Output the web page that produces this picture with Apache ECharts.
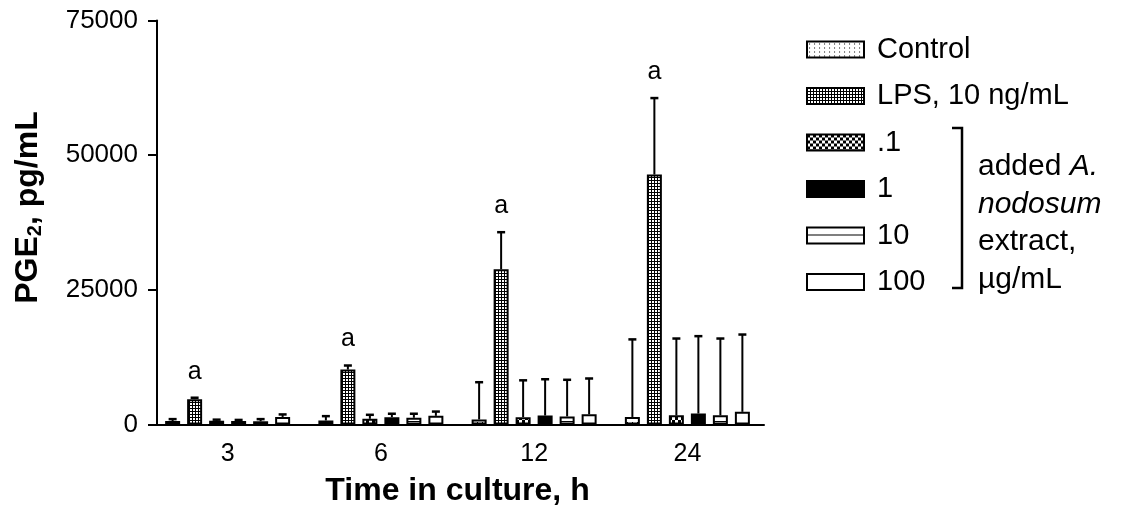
<!DOCTYPE html>
<html>
<head>
<meta charset="utf-8">
<script src="https://cdn.jsdelivr.net/npm/echarts@6/dist/echarts.min.js"></script>
<style>
html,body{margin:0;padding:0;background:#fff;}
#chart{width:1122px;height:514px;}
</style>
</head>
<body>
<div id="chart"></div>
<script>
// ---- data ----
const categories = ['3', '6', '12', '24'];
const seriesNames = ['Control', 'LPS, 10 ng/mL', '.1', '1', '10', '100'];
const control   = [650, 750, 930, 1400];
const lps       = [4700, 10200, 28800, 46400];
const ext01     = [700, 1060, 1360, 1700];
const ext1      = [650, 1360, 1670, 2040];
const ext10     = [600, 1250, 1500, 1700];
const ext100    = [1400, 1610, 1900, 2350];
const controlErr = [350, 800, 6920, 14400];
const lpsErr     = [270, 750, 6900, 14200];
const ext01Err   = [200, 740, 6840, 14260];
const ext1Err    = [200, 640, 6730, 14360];
const ext10Err   = [400, 750, 6800, 14260];
const ext100Err  = [470, 790, 6640, 14350];
const lpsSigLabels = ['a', 'a', 'a', 'a'];
const yTicks = [0, 25000, 50000, 75000];

const means = [control, lps, ext01, ext1, ext10, ext100];
const errs = [controlErr, lpsErr, ext01Err, ext1Err, ext10Err, ext100Err];

// ---- patterns ----
function tile(w, h, draw) {
  const c = document.createElement('canvas');
  c.width = w; c.height = h;
  const ctx = c.getContext('2d');
  draw(ctx, w, h);
  return { image: c, repeat: 'repeat' };
}
const patControl = tile(5, 4, (g, w, h) => { g.fillStyle = '#fff'; g.fillRect(0, 0, w, h); g.fillStyle = '#000'; g.fillRect(2, 2, 1, 1); });
const patLps = tile(3, 3, (g, w, h) => { g.fillStyle = '#000'; g.fillRect(0, 0, w, h); g.fillStyle = '#fff'; g.fillRect(1, 1, 2, 2); });
const patChk = tile(6, 6, (g, w, h) => { g.fillStyle = '#fff'; g.fillRect(0, 0, w, h); g.fillStyle = '#000'; g.fillRect(0, 0, 3, 3); g.fillRect(3, 3, 3, 3); });
const patHoriz = tile(4, 9, (g, w, h) => { g.fillStyle = '#fff'; g.fillRect(0, 0, w, h); g.fillStyle = '#000'; g.fillRect(0, 7, w, 1); });
const fills = [patControl, patLps, patChk, '#000', patHoriz, '#fff'];

const FONT = 'Liberation Sans, Arial, sans-serif';
const BAR_W = 15;
const PITCH = 22;

const errData = [];
for (let s = 0; s < means.length; s++) {
  for (let c = 0; c < categories.length; c++) {
    errData.push([c, s, means[s][c], means[s][c] + errs[s][c], s === 1 ? lpsSigLabels[c] : '']);
  }
}

const barSeries = seriesNames.map((name, i) => ({
  name: name,
  type: 'bar',
  data: means[i],
  barWidth: BAR_W,
  barGap: ((PITCH - BAR_W) / BAR_W * 100).toFixed(2) + '%',
  itemStyle: { color: fills[i], borderColor: '#000', borderWidth: 2 },
  emphasis: { disabled: true },
  z: 3
}));

const errSeries = {
  type: 'custom',
  name: 'err',
  data: errData,
  z: 4,
  silent: true,
  renderItem: function (params, api) {
    const c = api.value(0), s = api.value(1);
    const base = api.coord([c, api.value(2)]);
    const top = api.coord([c, api.value(3)]);
    const x = base[0] + (s - 2.5) * PITCH;
    const children = [
      { type: 'line', shape: { x1: x, y1: base[1], x2: x, y2: top[1] }, style: { stroke: '#000', lineWidth: 2 } },
      { type: 'line', shape: { x1: x - 4, y1: top[1], x2: x + 4, y2: top[1] }, style: { stroke: '#000', lineWidth: 2.5 } }
    ];
    const lab = api.value(4);
    if (lab) {
      children.push({ type: 'text', style: { text: lab, x: x, y: top[1] - 26, align: 'center', verticalAlign: 'middle', fontSize: 25, fontFamily: FONT, fill: '#000' } });
    }
    return { type: 'group', children: children };
  }
};

const chart = echarts.init(document.getElementById('chart'), null, { renderer: 'canvas' });
chart.setOption({
  animation: false,
  backgroundColor: '#fff',
  textStyle: { fontFamily: FONT },
  grid: { left: 151, right: 358, top: 20.5, bottom: 89.5, containLabel: false, outerBoundsMode: 'none' },
  legend: {
    data: seriesNames,
    orient: 'vertical',
    left: 806,
    top: 35,
    padding: 0,
    itemWidth: 57,
    itemHeight: 16,
    itemGap: 17.5,
    selectedMode: false,
    icon: 'rect',
    textStyle: { fontSize: 29, fontFamily: FONT, color: '#000', lineHeight: 28, padding: [0, 0, 0, 8] }
  },
  xAxis: {
    type: 'category',
    data: categories,
    axisLine: { lineStyle: { color: '#000', width: 2 } },
    axisTick: { show: false },
    axisLabel: { fontSize: 25, color: '#000', margin: 17, fontFamily: FONT },
    name: 'Time in culture, h',
    nameLocation: 'middle',
    nameGap: 51,
    nameTextStyle: { fontSize: 32, fontWeight: 'bold', color: '#000', fontFamily: FONT }
  },
  yAxis: {
    type: 'value',
    min: yTicks[0],
    max: yTicks[yTicks.length - 1],
    interval: yTicks[1] - yTicks[0],
    offset: -6,
    splitLine: { show: false },
    axisLine: { show: true, lineStyle: { color: '#000', width: 2 } },
    axisTick: { show: true, length: 9, lineStyle: { color: '#000', width: 2 } },
    axisLabel: { fontSize: 26, color: '#000', margin: 19, fontFamily: FONT, formatter: function (v) { return String(v); } },
    name: 'PGE{s|2}, pg/mL',
    nameLocation: 'middle',
    nameRotate: 90,
    nameGap: 112,
    nameTextStyle: {
      fontSize: 32, fontWeight: 'bold', color: '#000', fontFamily: FONT,
      padding: [0, 0, 0, 30],
      rich: { s: { fontSize: 20, fontWeight: 'bold', fontFamily: FONT, color: '#000', verticalAlign: 'bottom', padding: [13, 0, 0, 0] } }
    }
  },
  graphic: [
    { type: 'polyline', shape: { points: [[952, 128], [962, 128], [962, 288], [952, 288]] }, style: { stroke: '#000', lineWidth: 2.5, fill: null } },
    {
      type: 'text', left: 978, top: 148,
      style: {
        text: 'added {i|A.}\n{i|nodosum}\nextract,\nµg/mL',
        fontSize: 30, lineHeight: 37.5, fontFamily: FONT, fill: '#000',
        rich: { i: { fontStyle: 'italic', fontSize: 30, lineHeight: 37.5, fontFamily: FONT, fill: '#000' } }
      }
    }
  ],
  series: barSeries.concat([errSeries])
});
</script>
</body>
</html>
